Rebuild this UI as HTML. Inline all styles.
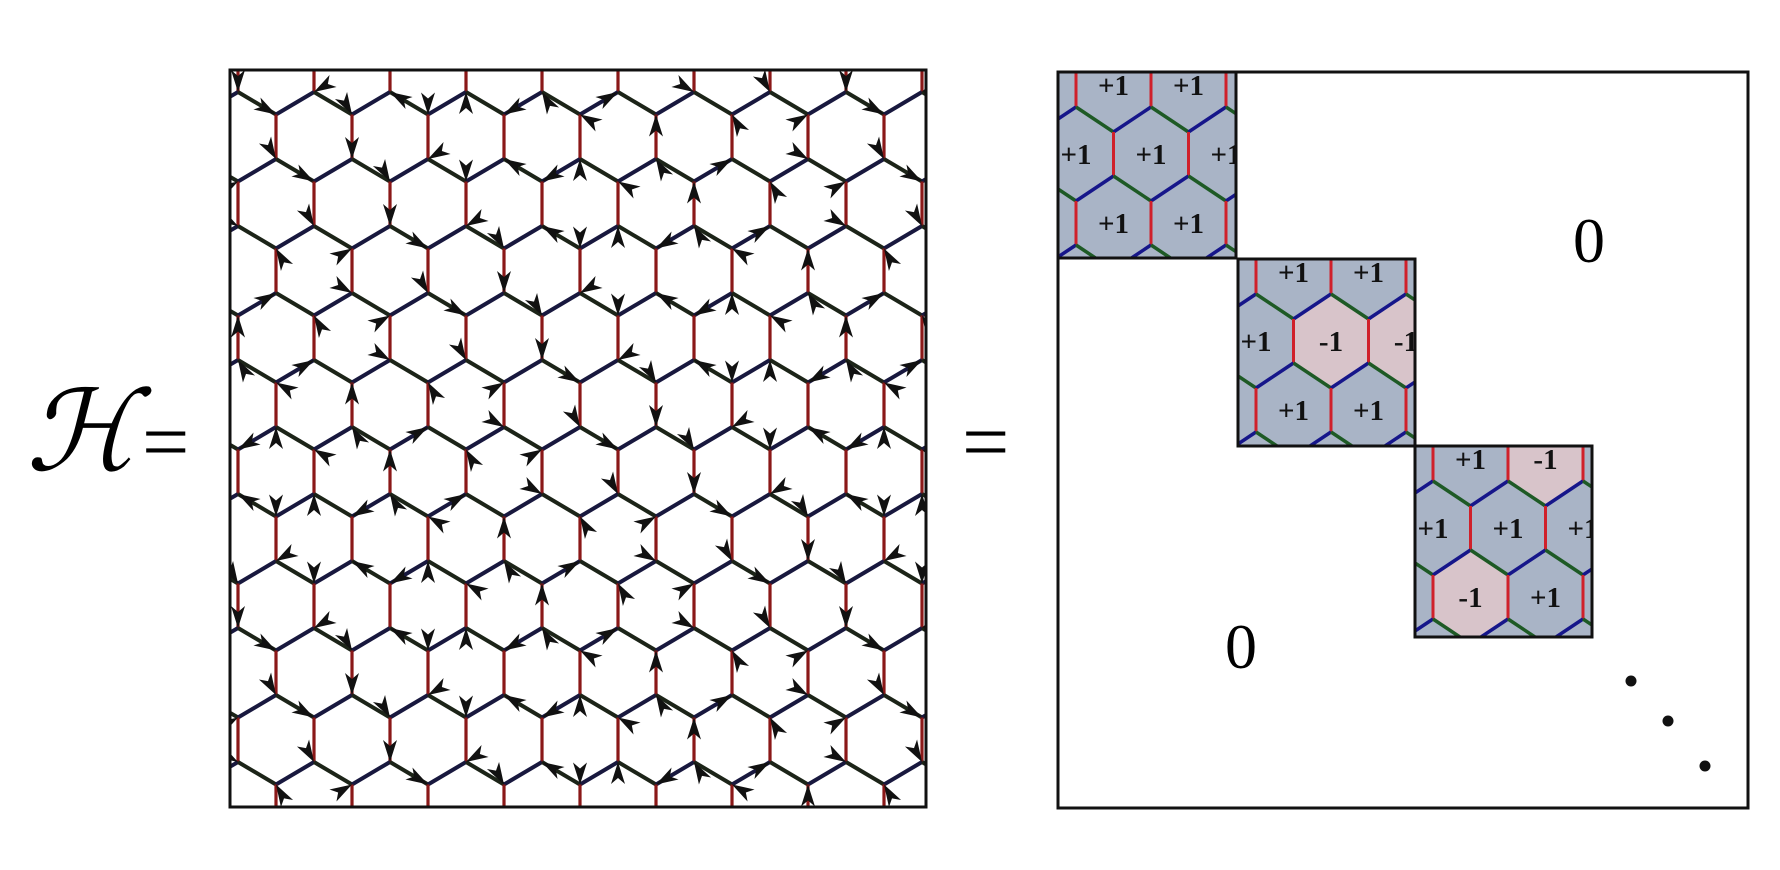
<!DOCTYPE html>
<html><head><meta charset="utf-8">
<style>
html,body{margin:0;padding:0;background:#fff;}
svg{display:block;}
text{font-family:"Liberation Serif",serif;}
</style></head>
<body>
<svg id="fig" width="1780" height="870" viewBox="0 0 1780 870">
<defs>
<clipPath id="clipL"><rect x="230" y="70" width="696" height="737"/></clipPath>
<clipPath id="clipB0"><rect x="1058" y="72" width="178" height="186"/></clipPath>
<clipPath id="clipB1"><rect x="1238" y="259" width="178" height="187"/></clipPath>
<clipPath id="clipB2"><rect x="1415" y="446" width="178" height="191"/></clipPath>
</defs>
<text x="26" y="470" font-size="112" font-style="italic">ℋ</text>
<text x="142" y="470" font-size="84">=</text>
<text x="962" y="470" font-size="84">=</text>
<g id="lattice" clip-path="url(#clipL)"></g>
<rect x="230" y="70" width="696" height="737" fill="none" stroke="#111" stroke-width="3"/>
<rect x="1058" y="72" width="690" height="736" fill="none" stroke="#111" stroke-width="3"/>
<g id="blocks"></g>
<text x="1589" y="262" font-size="64" text-anchor="middle">0</text>
<text x="1241" y="668" font-size="64" text-anchor="middle">0</text>
<circle cx="1631" cy="681" r="5.5" fill="#111"/>
<circle cx="1668" cy="721" r="5.5" fill="#111"/>
<circle cx="1705" cy="766" r="5.5" fill="#111"/>
</svg>
<script>
const NS="http://www.w3.org/2000/svg";
// block plaquette values (rows of hexagon cells)
const block0=[[1,1],[1,1,1],[1,1]];
const block1=[[1,1],[1,-1,-1],[1,1]];
const block2=[[1,-1],[1,1,1],[-1,1]];
const blocks=[block0,block1,block2];
const blockX=[1058,1238,1415];
const blockY=[72,259,446];

function mk(tag,attrs,parent){const e=document.createElementNS(NS,tag);for(const k in attrs)e.setAttribute(k,attrs[k]);parent.appendChild(e);return e;}

function edges(g,x0,yB0,w,s,dy,rows,jmin,jmax,cols,widths){
  const p=s+dy;
  for(let k=-1;k<rows;k++){
    const off=((k%2)+2)%2*w/2;
    const yT=yB0-s+k*p, yB=yT+s;
    for(let j=jmin;j<=jmax;j++){
      const x=x0+j*w+off;
      let l=mk('line',{x1:x,y1:yT,x2:x,y2:yB,stroke:cols[0],'stroke-width':widths[0]},g);
      
      
      l=mk('line',{x1:x,y1:yB,x2:x-w/2,y2:yB+dy,stroke:cols[1],'stroke-width':widths[1]},g);
      
      
      l=mk('line',{x1:x,y1:yB,x2:x+w/2,y2:yB+dy,stroke:cols[2],'stroke-width':widths[1]},g);
      
      
    }
  }
}

// left lattice
const L=document.getElementById('lattice');
const lw=76,ls=44.5,ldy=22.5;
edges(L,238,92,lw,ls,ldy,12,-1,10,['#8a1818','#18183e','#1c2418'],[3.2,4]);
// arrowheads at vertices (deterministic pattern)
const angs=[30,150,270,90,210,330,60,240];
let c=0;
for(let k=-1;k<12;k++){
  const off=((k%2)+2)%2*lw/2;
  const yB=92+k*(ls+ldy);
  for(let j=-1;j<=10;j++){
    c++;
    const x=238+j*lw+off;
    const pts=[[x,yB],[x,yB-ls]];
    pts.forEach((pt,i)=>{
      const a=angs[(c*3+i*5+k)%8];
      const t=mk('polygon',{points:'0,0 22,-7 16,0 22,7',fill:'#111',transform:`translate(${pt[0]},${pt[1]}) rotate(${a})`},L);
      
      
    });
  }
}

// blocks
const B=document.getElementById('blocks');
const bw=75,bs=44,bdy=25,bp=bs+bdy;
blocks.forEach((vals,b)=>{
  const bx=blockX[b],by=blockY[b];
  const g=mk('g',{'clip-path':`url(#clipB${b})`},B);
  
  
  mk('rect',{x:bx,y:by,width:180,height:192,fill:'#a9b4c6'},g);
  const x0=bx+18, yB0=by+35;
  vals.forEach((row,r)=>{
    const yT=yB0-bs+r*bp, yB=yT+bs;
    row.forEach((v,i)=>{
      const cx = (r%2===0) ? x0+i*bw+bw/2 : x0+i*bw;
      if(v<0){
        const pts=[[cx-bw/2,yT],[cx,yT-bdy],[cx+bw/2,yT],[cx+bw/2,yB],[cx,yB+bdy],[cx-bw/2,yB]].map(q=>q.join(',')).join(' ');
        const h=mk('polygon',{points:pts,fill:'#d8c4ca'},g);
        
        
      }
    });
  });
  edges(g,x0,yB0,bw,bs,bdy,4,-1,3,['#d0202a','#16168a','#1e5a25'],[3,3.5]);
  vals.forEach((row,r)=>{
    const yc=yB0-bs+r*bp+bs/2;
    row.forEach((v,i)=>{
      const cx = (r%2===0) ? x0+i*bw+bw/2 : x0+i*bw;
      const t=mk('text',{x:cx,y:yc+10,'font-size':29,'font-weight':'bold','text-anchor':'middle',fill:'#111'},g);
      t.textContent=v>0?'+1':'-1';
      
      
    });
  });
  const fr=mk('rect',{x:bx,y:by,width:[178,177,177][b],height:[186,187,191][b],fill:'none',stroke:'#111','stroke-width':3},B);
  
  
});
</script>
</body></html>
